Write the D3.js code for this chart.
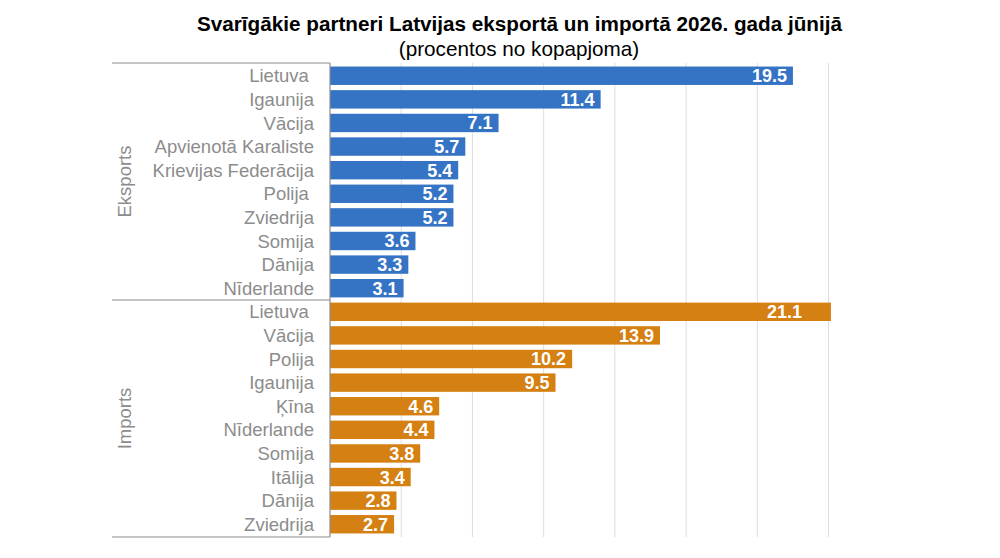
<!DOCTYPE html>
<html>
<head>
<meta charset="utf-8">
<script src="https://cdn.jsdelivr.net/npm/d3@7"></script>
<style>
html,body{margin:0;padding:0;background:#fff;}
svg{display:block;font-family:"Liberation Sans",Arial,sans-serif;}
</style>
</head>
<body>
<svg id="chart" width="1000" height="558"></svg>
<script>
const title = "Svarīgākie partneri Latvijas eksportā un importā 2026. gada jūnijā";
const subtitle = "(procentos no kopapjoma)";
const groups = ["Eksports", "Imports"];
const exportCountries = ["Lietuva ", "Igaunija", "Vācija", "Apvienotā Karaliste", "Krievijas Federācija", "Polija ", "Zviedrija", "Somija", "Dānija", "Nīderlande"];
const exportValues = [19.5, 11.4, 7.1, 5.7, 5.4, 5.2, 5.2, 3.6, 3.3, 3.1];
const importCountries = ["Lietuva ", "Vācija", "Polija", "Igaunija", "Ķīna", "Nīderlande", "Somija", "Itālija", "Dānija", "Zviedrija"];
const importValues = [21.1, 13.9, 10.2, 9.5, 4.6, 4.4, 3.8, 3.4, 2.8, 2.7];
const gridTicks = [3, 6, 9, 12, 15, 18, 21];

const colors = {Eksports: "#3574c4", Imports: "#d58012"};

const rows = [];
exportCountries.forEach((c, i) => rows.push({id: "e" + i, group: "Eksports", name: c, value: exportValues[i]}));
importCountries.forEach((c, i) => rows.push({id: "i" + i, group: "Imports", name: c, value: importValues[i]}));

const svg = d3.select("#chart");
const plotLeft = 330, plotTop = 63, plotBottom = 537, groupLeft = 112;

const x = d3.scaleLinear().domain([0, 24]).range([plotLeft, plotLeft + 24 * 23.74]);
const y = d3.scaleBand().domain(rows.map(d => d.id)).range([plotTop, plotBottom]).paddingInner(0.22).paddingOuter(0.15);

// grid
svg.append("g").selectAll("line").data(gridTicks).join("line")
  .attr("x1", d => x(d)).attr("x2", d => x(d))
  .attr("y1", plotTop).attr("y2", plotBottom)
  .attr("stroke", "#dedede").attr("stroke-width", 1);

// bars
svg.append("g").selectAll("rect").data(rows).join("rect")
  .attr("x", x(0)).attr("y", d => y(d.id))
  .attr("width", d => x(d.value) - x(0)).attr("height", y.bandwidth())
  .attr("fill", d => colors[d.group]);

// value labels
const maxLabelX = 802;
svg.append("g").selectAll("text").data(rows).join("text")
  .attr("x", d => Math.min(x(d.value) - 6, maxLabelX))
  .attr("y", d => y(d.id) + y.bandwidth() / 2)
  .attr("dy", "0.36em")
  .attr("text-anchor", "end")
  .attr("fill", "#fff").attr("font-weight", "bold").attr("font-size", 18)
  .text(d => d.value.toFixed(1));

// category labels
svg.append("g").selectAll("text").data(rows).join("text")
  .attr("x", 314)
  .attr("y", d => y(d.id) + y.bandwidth() / 2)
  .attr("dy", "0.36em")
  .attr("text-anchor", "end")
  .style("white-space", "pre")
  .attr("fill", "#8c8c8c").attr("font-size", 18.5)
  .text(d => d.name);

// axis frame
const axisColor = "#8c8c8c";
const g = svg.append("g").attr("stroke", axisColor).attr("stroke-width", 1.2);
g.append("line").attr("x1", plotLeft).attr("x2", plotLeft).attr("y1", plotTop).attr("y2", plotBottom);
const splitY = (y("e9") + y.bandwidth() + y("i0")) / 2;
[plotTop, splitY, plotBottom].forEach(v => {
  g.append("line").attr("x1", groupLeft).attr("x2", plotLeft).attr("y1", v).attr("y2", v);
});

// group labels
const groupBounds = [[plotTop, splitY], [splitY, plotBottom]];
groups.forEach((gr, i) => {
  const cy = (groupBounds[i][0] + groupBounds[i][1]) / 2;
  svg.append("text")
    .attr("transform", `translate(124,${cy}) rotate(-90)`)
    .attr("text-anchor", "middle").attr("dy", "0.36em")
    .attr("fill", "#8c8c8c").attr("font-size", 18.5)
    .text(gr);
});

// title
svg.append("text").attr("x", 519.5).attr("y", 31).attr("text-anchor", "middle")
  .attr("font-weight", "bold").attr("font-size", 20.7).attr("fill", "#000").text(title);
svg.append("text").attr("x", 519).attr("y", 56).attr("text-anchor", "middle")
  .attr("font-size", 20.7).attr("fill", "#000").text(subtitle);
</script>
</body>
</html>
